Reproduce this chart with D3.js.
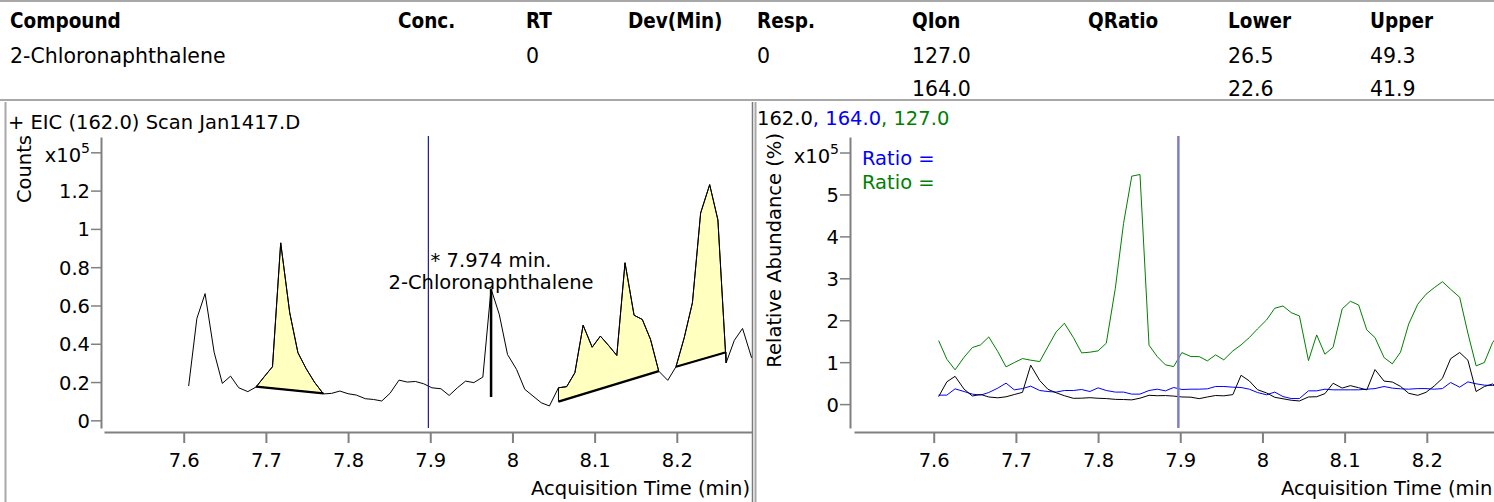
<!DOCTYPE html>
<html><head><meta charset="utf-8">
<script src="https://cdn.jsdelivr.net/npm/d3@7"></script>
<style>
html,body{margin:0;padding:0;background:#fff;overflow:hidden}
svg{display:block;font-family:"DejaVu Sans",sans-serif}
</style></head><body>
<svg id="c" width="1494" height="502"></svg>
<script>
// ---------------- DATA ----------------
const headerCols = ["Compound","Conc.","RT","Dev(Min)","Resp.","QIon","QRatio","Lower","Upper"];
const headerRow1 = ["2-Chloronaphthalene","","0","","0","127.0","","26.5","49.3"];
const headerRow2 = ["","","","","","164.0","","22.6","41.9"];

const times = [7.606,7.616,7.626,7.637,7.647,7.657,7.667,7.678,7.688,7.698,
7.708,7.718,7.729,7.739,7.749,7.759,7.770,7.780,7.790,7.800,
7.810,7.821,7.831,7.841,7.851,7.862,7.872,7.882,7.892,7.902,
7.913,7.923,7.933,7.943,7.953,7.964,7.974,7.984,7.994,8.005,
8.015,8.025,8.035,8.045,8.056,8.066,8.076,8.086,8.097,8.107,
8.117,8.127,8.137,8.148,8.158,8.168,8.178,8.189,8.199,8.209,
8.219,8.229,8.240,8.250,8.260,8.270,8.280,8.291];

// ion 162.0 (x10^5 counts)
const eic162 = [0.179,0.532,0.662,0.356,0.193,0.231,0.170,0.150,0.174,0.228,
0.280,0.927,0.562,0.353,0.270,0.200,0.138,0.141,0.153,0.139,
0.132,0.113,0.109,0.101,0.141,0.210,0.200,0.203,0.191,0.170,
0.165,0.130,0.170,0.205,0.197,0.226,0.687,0.553,0.344,0.266,
0.162,0.127,0.092,0.075,0.170,0.176,0.249,0.497,0.382,0.440,
0.391,0.339,0.823,0.549,0.527,0.423,0.257,0.209,0.280,0.431,
0.614,1.083,1.231,1.047,0.300,0.418,0.480,0.327];
// ion 164.0
const eic164 = [0.214,0.214,0.364,0.300,0.238,0.214,0.276,0.381,0.500,0.340,
0.370,0.428,0.324,0.300,0.286,0.324,0.324,0.348,0.300,0.388,
0.324,0.286,0.286,0.238,0.238,0.324,0.356,0.316,0.396,0.348,
0.356,0.356,0.364,0.420,0.420,0.404,0.396,0.356,0.276,0.222,
0.286,0.180,0.133,0.133,0.316,0.316,0.356,0.340,0.340,0.340,
0.340,0.356,0.370,0.420,0.381,0.364,0.356,0.370,0.370,0.356,
0.370,0.515,0.404,0.530,0.484,0.452,0.444,0.440];
// ion 127.0
const eic127 = [1.514,1.070,0.817,1.119,1.348,1.412,1.602,1.252,0.888,0.990,
1.086,1.047,1.015,1.371,1.721,1.928,1.586,1.221,1.238,1.269,
1.452,2.762,4.310,5.436,5.476,1.405,1.133,0.936,0.895,1.229,
1.133,1.133,1.031,1.174,1.055,1.269,1.412,1.586,1.793,2.007,
2.286,2.340,2.181,2.102,1.038,1.650,1.190,1.357,2.269,2.452,
2.364,1.769,1.586,1.110,0.960,1.238,1.912,2.381,2.619,2.776,
2.919,2.738,2.548,1.690,0.912,0.990,1.467,1.750];

// integrated peaks: start/end time, baseline value at start/end
const fillStart = [7.688, 8.056, 8.199];
const fillEnd   = [7.770, 8.178, 8.260];
const baseStart = [0.176, 0.098, 0.280];
const baseEnd   = [0.141, 0.257, 0.356];

const expectedRT = 7.8977;
const peakRT = 7.974, peakTop = 0.687, peakBottom = 0.122;
const peakText = ["* 7.974 min.", "2-Chloronaphthalene"];

const xTicks = [7.6,7.7,7.8,7.9,8.0,8.1,8.2];
const xTickLabels = ["7.6","7.7","7.8","7.9","8","8.1","8.2"];
const yTicksL = [0,0.2,0.4,0.6,0.8,1.0,1.2,1.4];
const yTickLabelsL = ["0","0.2","0.4","0.6","0.8","1","1.2",""];
const yTicksR = [0,1,2,3,4,5,6];
const yTickLabelsR = ["0","1","2","3","4","5",""];

// ---------------- DRAW ----------------
const svg = d3.select("#c");
svg.append("rect").attr("width",1494).attr("height",502).attr("fill","#fff");

// header
const colX = [10,398,526,628,757,912,1088,1228,1370];
const hdr = svg.append("g");
hdr.append("line").attr("x1",0).attr("x2",1494).attr("y1",1).attr("y2",1).attr("stroke","#a8a8a8").attr("stroke-width",2);
hdr.append("line").attr("x1",0).attr("x2",1494).attr("y1",100).attr("y2",100).attr("stroke","#a8a8a8").attr("stroke-width",2);
hdr.selectAll("text.h").data(headerCols).join("text").attr("class","h")
  .attr("x",(d,i)=>colX[i]).attr("y",28)
  .style("font-family","'DejaVu Sans Condensed','DejaVu Sans',sans-serif")
  .style("font-stretch","condensed").style("font-weight","bold")
  .style("font-size","20.5px").text(d=>d);
[headerRow1, headerRow2].forEach((row,r)=>{
  hdr.selectAll("text.r"+r).data(row).join("text").attr("class","r"+r)
    .attr("x",(d,i)=>colX[i]).attr("y",63+r*33)
    .style("font-size","20.5px").text(d=>d);
});

// panel borders
svg.append("line").attr("x1",5.5).attr("x2",5.5).attr("y1",102).attr("y2",502).attr("stroke","#a8a8a8").attr("stroke-width",2);
svg.append("line").attr("x1",752.5).attr("x2",752.5).attr("y1",102).attr("y2",502).attr("stroke","#7a7a7a").attr("stroke-width",1.5);
svg.append("line").attr("x1",755.5).attr("x2",755.5).attr("y1",102).attr("y2",502).attr("stroke","#a8a8a8").attr("stroke-width",2);

const FS = "19.5px";
function axes(g, x, y, yAxisX, yT, yL){
  const ax = g.append("g").attr("transform",`translate(0,432)`)
    .call(d3.axisBottom(x).tickValues(xTicks).tickFormat((d,i)=>xTickLabels[i]).tickSize(11).tickSizeOuter(0));
  ax.select(".domain").attr("stroke","#808080").attr("stroke-width",2);
  ax.selectAll(".tick line").attr("stroke","#808080").attr("stroke-width",2);
  ax.selectAll(".tick text").attr("y",35).attr("dy",0).style("font-size",FS).attr("fill","#000").style("font-family","'DejaVu Sans',sans-serif");
  const ay = g.append("g").attr("transform",`translate(${yAxisX},0)`)
    .call(d3.axisLeft(y).tickValues(yT).tickFormat((d,i)=>yL[i]).tickSize(10).tickSizeOuter(0));
  ay.select(".domain").attr("stroke","#808080").attr("stroke-width",2);
  ay.selectAll(".tick line").attr("stroke","#808080").attr("stroke-width",1.5);
  ay.selectAll(".tick text").attr("x",-11).attr("dy","0.36em").style("font-size",FS).attr("fill","#000").style("font-family","'DejaVu Sans',sans-serif");
  // x10^5 label at top tick
  const t = g.append("text").attr("x",yAxisX-11).attr("y",y(yT[yT.length-1])+10)
    .attr("text-anchor","end").style("font-size",FS);
  t.append("tspan").text("x10");
  t.append("tspan").attr("dy",-9).style("font-size","14px").text("5");
}

// ---------- left chart ----------
const gL = svg.append("g");
const xL = d3.scaleLinear().domain([7.503, 8.2915]).range([104, 752]);
const yL = d3.scaleLinear().domain([-0.04, 1.48]).range([428, 137]);
axes(gL, xL, yL, 101, yTicksL, yTickLabelsL);

gL.append("text").attr("x",8).attr("y",129).style("font-size",FS).text("+ EIC (162.0) Scan Jan1417.D");
gL.append("text").attr("transform","translate(31,135) rotate(-90)").attr("text-anchor","end").style("font-size",FS).text("Counts");
gL.append("text").attr("x",750).attr("y",495).attr("text-anchor","end").style("font-size",FS).text("Acquisition Time (min)");

const pts162 = times.map((t,i)=>({t, v:eic162[i]}));
const lineL = d3.line().x(d=>xL(d.t)).y(d=>yL(d.v));

fillStart.forEach((s,k)=>{
  const e = fillEnd[k];
  const seg = pts162.filter(p=>p.t>=s-1e-4 && p.t<=e+1e-4);
  const poly = seg.concat([{t:e, v:baseEnd[k]},{t:s, v:baseStart[k]}]);
  gL.append("path").attr("d", lineL(poly)+"Z").attr("fill","#ffffc0").attr("stroke","#000").attr("stroke-width",1);
  gL.append("path").attr("d", lineL([{t:s,v:baseStart[k]},{t:e,v:baseEnd[k]}])).attr("fill","none").attr("stroke","#000").attr("stroke-width",2.2);
});

gL.append("path").attr("d", lineL(pts162)).attr("fill","none").attr("stroke","#000").attr("stroke-width",1);

gL.append("line").attr("x1",xL(expectedRT)).attr("x2",xL(expectedRT)).attr("y1",136).attr("y2",428)
  .attr("stroke","#1c1c9c").attr("stroke-width",1.2);

gL.append("line").attr("x1",xL(peakRT)).attr("x2",xL(peakRT)).attr("y1",yL(peakTop)).attr("y2",yL(peakBottom))
  .attr("stroke","#000").attr("stroke-width",2.5);
peakText.forEach((s,i)=>{
  gL.append("text").attr("x",xL(peakRT)).attr("y",267+i*22).attr("text-anchor","middle").style("font-size",FS).text(s);
});

// ---------- right chart ----------
const gR = svg.append("g");
const xR = d3.scaleLinear().domain([7.503, 8.2915]).range([854, 1502]);
const yR = d3.scaleLinear().domain([-0.57, 6.37]).range([428, 137]);
axes(gR, xR, yR, 850, yTicksR, yTickLabelsR);

const ttl = gR.append("text").attr("x",757).attr("y",125).style("font-size",FS);
ttl.append("tspan").attr("fill","#000").text("162.0");
ttl.append("tspan").attr("fill","#0000ff").text(", 164.0");
ttl.append("tspan").attr("fill","#008000").text(", 127.0");
gR.append("text").attr("transform","translate(781,133) rotate(-90)").attr("text-anchor","end").style("font-size",FS).text("Relative Abundance (%)");
gR.append("text").attr("x",1500).attr("y",495).attr("text-anchor","end").style("font-size",FS).text("Acquisition Time (min)");
gR.append("text").attr("x",862).attr("y",165).attr("fill","#0000ff").style("font-size",FS).text("Ratio =");
gR.append("text").attr("x",862).attr("y",189).attr("fill","#008000").style("font-size",FS).text("Ratio =");

const lineR = d3.line().x(d=>xR(d.t)).y(d=>yR(d.v));
const series = [[eic127,"#008000"],[eic164,"#0000ff"],[eic162,"#000"]];
series.forEach(([arr,col])=>{
  gR.append("path").attr("d", lineR(times.map((t,i)=>({t, v:arr[i]})))).attr("fill","none").attr("stroke",col).attr("stroke-width",1);
});
gR.append("line").attr("x1",xR(expectedRT)).attr("x2",xR(expectedRT)).attr("y1",136).attr("y2",428)
  .attr("stroke","#7f7fc8").attr("stroke-width",2.5);
</script></body></html>
